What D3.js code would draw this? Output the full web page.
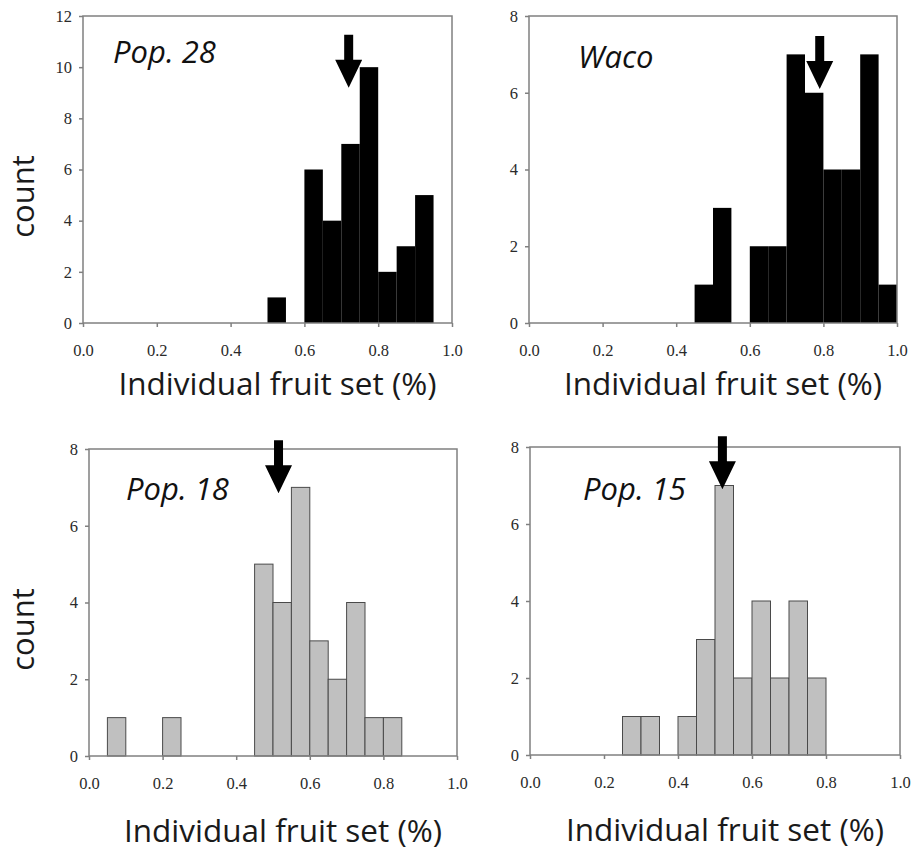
<!DOCTYPE html>
<html>
<head>
<meta charset="utf-8">
<script src="https://cdn.jsdelivr.net/npm/d3@7"></script>
<style>
  body { margin: 0; background: #fff; }
  svg { display: block; }
</style>
</head>
<body>
<div id="chart"></div>
<script>
// histogram bins (lower edge of each 0.05 wide bin)
let binStarts = [0.00, 0.05, 0.10, 0.15, 0.20, 0.25, 0.30, 0.35, 0.40, 0.45,
                 0.50, 0.55, 0.60, 0.65, 0.70, 0.75, 0.80, 0.85, 0.90, 0.95];
let binWidth = 0.05;

// counts per bin
let pop28Counts = [0, 0, 0, 0, 0, 0, 0, 0, 0, 0, 1, 0, 6, 4, 7, 10, 2, 3, 5, 0];
let wacoCounts  = [0, 0, 0, 0, 0, 0, 0, 0, 0, 1, 3, 0, 2, 2, 7, 6, 4, 4, 7, 1];
let pop18Counts = [0, 1, 0, 0, 1, 0, 0, 0, 0, 5, 4, 7, 3, 2, 4, 1, 1, 0, 0, 0];
let pop15Counts = [0, 0, 0, 0, 0, 1, 1, 0, 1, 3, 7, 2, 4, 2, 4, 2, 0, 0, 0, 0];

let panelNames = ["Pop. 28", "Waco", "Pop. 18", "Pop. 15"];
let yMax = [12, 8, 8, 8];
let xTicks = [0, 0.2, 0.4, 0.6, 0.8, 1.0];
// mean fruit set (arrow position) and arrow tip height in counts
let arrowX = [0.72, 0.79, 0.515, 0.52];
let arrowTip = [9.2, 6.1, 6.85, 6.9];

let xTitle = "Individual fruit set (%)";
let yTitle = "count";

let width = 911;
let height = 853;

// layout of the 4 plot boxes (pixels)
let layout = [
  { left: 83, right: 452, top: 16, bottom: 323, fill: "#000", stroke: "none", tx: 30, ty: 47 },
  { left: 529, right: 897, top: 16, bottom: 323, fill: "#000", stroke: "none", tx: 49, ty: 52 },
  { left: 89, right: 457, top: 449, bottom: 756, fill: "#c0c0c0", stroke: "#4a4a4a", tx: 37, ty: 51 },
  { left: 530, right: 900, top: 447, bottom: 755, fill: "#c0c0c0", stroke: "#4a4a4a", tx: 53, ty: 53 }
];
let allCounts = [pop28Counts, wacoCounts, pop18Counts, pop15Counts];

let svg = d3.select("#chart")
  .append("svg")
  .attr("width", width)
  .attr("height", height);

function drawPanel(i) {
  let box = layout[i];
  let counts = allCounts[i];

  let x = d3.scaleLinear().domain([0, 1]).range([box.left, box.right]);
  let y = d3.scaleLinear().domain([0, yMax[i]]).range([box.bottom, box.top]);

  let g = svg.append("g");

  let bins = binStarts.map((b, j) => ({ x0: b, x1: b + binWidth, n: counts[j] }))
    .filter(d => d.n > 0);

  g.selectAll("rect.bar")
    .data(bins)
    .join("rect")
    .attr("class", "bar")
    .attr("x", d => x(d.x0))
    .attr("y", d => y(d.n))
    .attr("width", d => x(d.x1) - x(d.x0))
    .attr("height", d => y(0) - y(d.n))
    .attr("fill", box.fill)
    .attr("stroke", box.stroke)
    .attr("stroke-width", 1);

  // frame
  g.append("rect")
    .attr("x", box.left)
    .attr("y", box.top)
    .attr("width", box.right - box.left)
    .attr("height", box.bottom - box.top)
    .attr("fill", "none")
    .attr("stroke", "#808080")
    .attr("stroke-width", 1.5);

  let xAxis = g.append("g")
    .attr("transform", "translate(0," + box.bottom + ")")
    .call(d3.axisBottom(x).tickValues(xTicks).tickFormat(d3.format(".1f"))
      .tickSize(4).tickSizeOuter(0).tickPadding(17));

  let yAxis = g.append("g")
    .attr("transform", "translate(" + box.left + ",0)")
    .call(d3.axisLeft(y).ticks(yMax[i] / 2).tickFormat(d3.format("d"))
      .tickSize(4).tickSizeOuter(0).tickPadding(7));

  [xAxis, yAxis].forEach(a => {
    a.select(".domain").remove();
    a.selectAll("line").attr("stroke", "#808080").attr("stroke-width", 1.5);
    a.selectAll("text")
      .attr("fill", "#2a2a2a")
      .style("font-family", "'Liberation Serif', 'Times New Roman', serif")
      .style("font-size", "16.5px");
  });

  // panel label
  g.append("text")
    .attr("x", box.left + box.tx)
    .attr("y", box.top + box.ty)
    .text(panelNames[i])
    .attr("fill", "#111")
    .style("font-family", "'Open Sans', sans-serif")
    .style("font-style", "italic")
    .style("font-size", "31px");

  // arrow marking the mean
  let ax = x(arrowX[i]);
  let tip = y(arrowTip[i]);
  let shaft = 4.5, head = 13.5;
  let arrowPts = [
    [ax - shaft, tip - 53], [ax + shaft, tip - 53], [ax + shaft, tip - 28],
    [ax + head, tip - 28], [ax, tip], [ax - head, tip - 28], [ax - shaft, tip - 28]
  ];
  g.append("path")
    .attr("d", d3.line()(arrowPts) + "Z")
    .attr("fill", "#000");

  // x axis title
  let titleY = i < 2 ? box.bottom + 72 : box.bottom + 86;
  g.append("text")
    .attr("x", (box.left + box.right) / 2 + 10)
    .attr("y", titleY)
    .attr("text-anchor", "middle")
    .text(xTitle)
    .attr("fill", "#1a1a1a")
    .style("font-family", "'Open Sans', sans-serif")
    .style("font-size", "31.5px");

  // y axis title on the left column only
  if (i % 2 === 0) {
    let cy = (box.top + box.bottom) / 2 + 27;
    g.append("text")
      .attr("transform", "translate(34," + cy + ") rotate(-90)")
      .attr("text-anchor", "middle")
      .text(yTitle)
      .attr("fill", "#1a1a1a")
      .style("font-family", "'Open Sans', sans-serif")
      .style("font-size", "31px");
  }
}

for (let i = 0; i < 4; i++) {
  drawPanel(i);
}
</script>
</body>
</html>
